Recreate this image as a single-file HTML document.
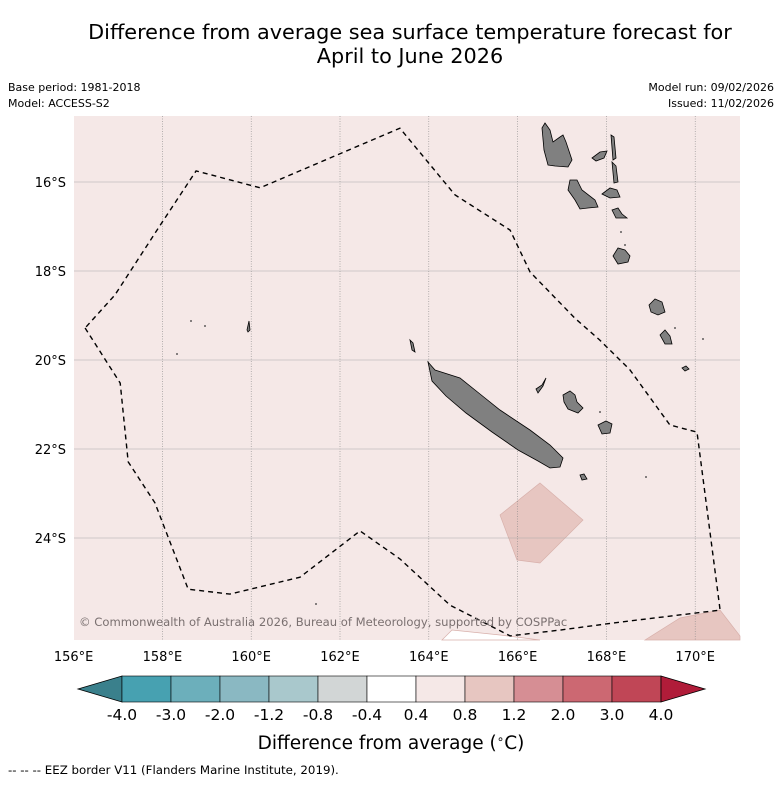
<!DOCTYPE html>
<html><head><meta charset="utf-8"><style>
html,body{margin:0;padding:0;background:#fff;}
body{width:781px;height:781px;overflow:hidden;font-family:"DejaVu Sans","Liberation Sans",sans-serif;}
svg text{font-family:"DejaVu Sans","Liberation Sans",sans-serif;}
</style></head><body>
<svg id="chart" width="781" height="781" xmlns="http://www.w3.org/2000/svg">
<text x="410" y="39" font-size="20.8" text-anchor="middle">Difference from average sea surface temperature forecast for</text>
<text x="410" y="63" font-size="20.8" text-anchor="middle">April to June 2026</text>
<text x="8" y="91" font-size="11">Base period: 1981-2018</text>
<text x="8" y="107" font-size="11">Model: ACCESS-S2</text>
<text x="774" y="91" font-size="11" text-anchor="end">Model run: 09/02/2026</text>
<text x="774" y="107" font-size="11" text-anchor="end">Issued: 11/02/2026</text>
<g id="map"></g>
<g id="cbar"></g>
<text x="391" y="749" font-size="18.5" text-anchor="middle">Difference from average (<tspan font-size="12" dy="-6">∘</tspan><tspan dy="6">C)</tspan></text>
<text x="8" y="774" font-size="11.8">--  --  -- EEZ border V11 (Flanders Marine Institute, 2019).</text>
</svg>
<script>
const lonTicks=[156,158,160,162,164,166,168,170];
const latTicks=[16,18,20,22,24];
const eezLon=[156.26,157.05,157.23,157.83,158.58,159.52,161.10,162.45,163.35,164.48,165.83,166.95,168.31,170.56,170.04,169.43,168.53,167.85,167.29,166.28,165.83,164.59,163.35,160.20,158.76,157.95,156.93];
const eezLat=[19.28,20.52,22.29,23.21,25.15,25.26,24.88,23.84,24.47,25.51,26.20,26.07,25.89,25.62,21.62,21.46,20.22,19.55,19.06,18.02,17.08,16.29,14.79,16.13,15.75,16.97,18.54];
const cbarLevels=["-4.0","-3.0","-2.0","-1.2","-0.8","-0.4","0.4","0.8","1.2","2.0","3.0","4.0"];
const cbarColors=["#47a1b1","#6cafbb","#8ab8c2","#a9c8cc","#d2d6d6","#ffffff","#f5e8e7","#e7c6c1","#d68e94","#cc6872","#c04656"];
const NS="http://www.w3.org/2000/svg";
const X0=74,X1=740,Y0=116,Y1=640;
function xs(lon){return 73.6+(lon-156)*44.4;}
function ys(lat){return 182+(lat-16)*44.5;}
function mk(tag,attrs,parent){const e=document.createElementNS(NS,tag);for(const k in attrs)e.setAttribute(k,attrs[k]);parent.appendChild(e);return e;}
const map=document.getElementById('map');
let e=mk('rect',{x:X0,y:Y0,width:X1-X0,height:Y1-Y0,fill:'#f5e8e7'},map);


e=mk('polygon',{points:"540,483 583,520 540,563 517,560 500,515",fill:'#e7c6c1',stroke:'#d8b0ab','stroke-width':0.7},map);


e=mk('polygon',{points:"645,640 680,618 720,610 740,636 740,640",fill:'#e7c6c1',stroke:'#d8b0ab','stroke-width':0.7},map);


e=mk('polygon',{points:"442,640 452,630 500,635 540,640",fill:'#ffffff',stroke:'#d8b0ab','stroke-width':0.7},map);


lonTicks.forEach(l=>{const x=xs(l);
 if(x>X0+2){e=mk('line',{x1:x,x2:x,y1:Y0,y2:Y1,stroke:'#888','stroke-width':0.6,'stroke-dasharray':'1,1.5'},map);
 
 }
 e=mk('text',{x:x,y:661,'font-size':13,'text-anchor':'middle'},map);e.textContent=l+'°E';
 
 
});
latTicks.forEach(l=>{const y=ys(l);
 e=mk('line',{x1:X0,x2:X1,y1:y,y2:y,stroke:'#aaa','stroke-width':0.6},map);
 
 
 e=mk('text',{x:66,y:y+5,'font-size':13,'text-anchor':'end'},map);e.textContent=l+'°S';
 
 
});
const isl=[
"428,362 435,370 460,378 480,394 500,410 530,430 550,445 563,458 560,467 550,468 538,461 518,450 492,432 466,413 446,396 432,381",
"542,128 545,123 550,130 553,142 560,137 563,135 566,142 572,160 568,167 555,166 548,165 544,150",
"570,180 577,180 582,190 595,200 598,207 588,208 580,209 575,200 568,190",
"611,135 614,137 616,158 613,160",
"612,162 616,166 618,182 614,183",
"592,158 600,152 607,151 604,158 596,161",
"602,194 610,188 617,190 620,197 610,198",
"612,210 618,208 622,214 627,218 616,218",
"613,256 618,248 625,250 630,256 628,262 618,264",
"563,395 570,391 575,395 577,402 583,408 578,413 568,409 564,402",
"598,425 606,421 612,424 610,433 602,434",
"536,389 542,385 546,378 543,386 538,393",
"649,305 655,299 662,302 665,312 658,315 651,312",
"660,335 665,330 670,336 672,344 665,344",
"682,368 686,366 689,369 685,371",
"580,475 584,474 587,479 582,480",
"410,340 413,343 415,352 412,350",
"247,330 249,321 250,330 248,332"];
isl.forEach(p=>{e=mk('polygon',{points:p,fill:'#808080',stroke:'#000','stroke-width':0.8},map);
 
 });
[[191,321],[205,326],[177,354],[675,328],[703,339],[646,477],[316,604],[600,412],[621,232],[625,245]].forEach(p=>{
 e=mk('circle',{cx:p[0],cy:p[1],r:0.9,fill:'#333'},map);
 
 });
let pts=eezLon.map((lo,i)=>xs(lo).toFixed(1)+','+ys(eezLat[i]).toFixed(1)).join(' ');
e=mk('polygon',{points:pts,fill:'none',stroke:'#000','stroke-width':1.4,'stroke-dasharray':'5,4'},map);


e=mk('text',{x:79,y:626,'font-size':11.6,fill:'#7a7070'},map);
e.textContent='© Commonwealth of Australia 2026, Bureau of Meteorology, supported by COSPPac';


const cb=document.getElementById('cbar');
const cx0=122,cw=49,cy0=676,ch=26,n=cbarColors.length;
e=mk('polygon',{points:`${cx0},${cy0} ${cx0},${cy0+ch} 78,${cy0+ch/2}`,fill:'#3a808c',stroke:'#000','stroke-width':0.8},cb);


cbarColors.forEach((c,i)=>{e=mk('rect',{x:cx0+i*cw,y:cy0,width:cw,height:ch,fill:c,stroke:'#000','stroke-width':0.6},cb);
 
 });
const cx1=cx0+n*cw;
e=mk('polygon',{points:`${cx1},${cy0} ${cx1},${cy0+ch} 705,${cy0+ch/2}`,fill:'#b01c39',stroke:'#000','stroke-width':0.8},cb);


cbarLevels.forEach((t,i)=>{e=mk('text',{x:cx0+i*cw,y:720,'font-size':15.5,'text-anchor':'middle'},cb);e.textContent=t;
 
 });
</script>
</body></html>
